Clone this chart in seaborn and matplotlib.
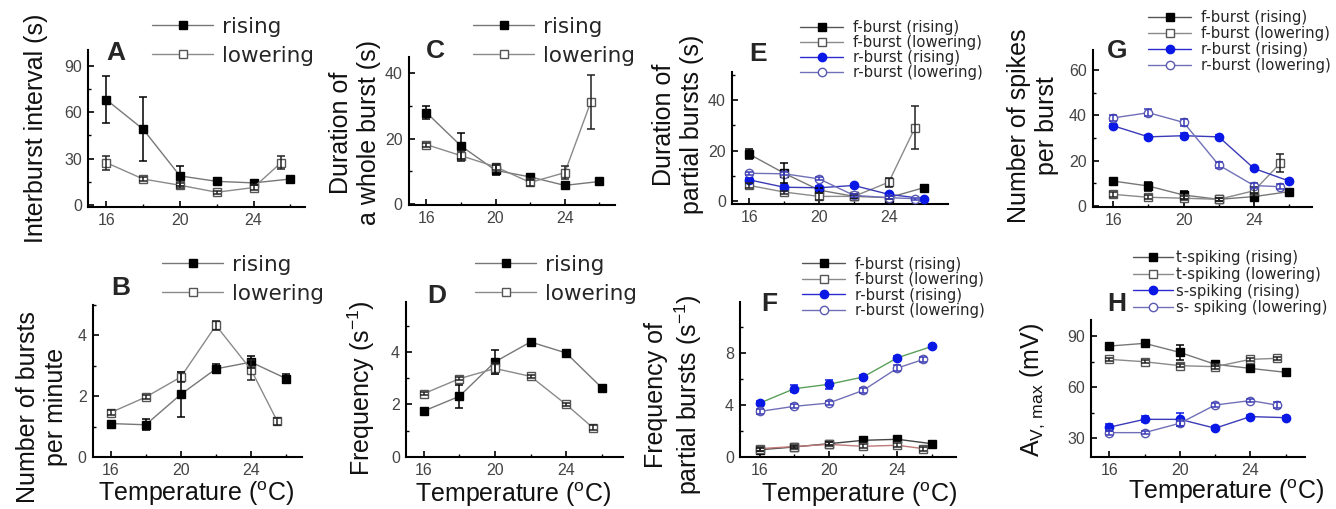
import numpy as np
import pandas as pd
import matplotlib
matplotlib.use("Agg")
import matplotlib.pyplot as plt
import seaborn as sns
from matplotlib.lines import Line2D
from matplotlib.ticker import MultipleLocator

sns.set_style("ticks")
plt.rcParams['font.family'] = ['Liberation Sans', 'DejaVu Sans']
plt.rcParams['mathtext.fontset'] = 'custom'
plt.rcParams['mathtext.rm'] = 'Liberation Sans'
plt.rcParams['mathtext.it'] = 'Liberation Sans:italic'
plt.rcParams['mathtext.bf'] = 'Liberation Sans:bold'

# ---------------- data ----------------
T_RISE = [16, 18, 20, 22, 24, 26]
T_LOWER = [16, 18, 20, 22, 24, 25.5]

# A: interburst interval (s)
A_rise = [68, 49, 19, 15.5, 14.5, 17]
A_rise_err = [15, 20.5, 6.5, 2, 1.5, 1.2]
A_lower = [27.5, 17, 13, 8.5, 11.5, 27.5]
A_lower_err = [4.5, 1, 1.5, 1, 1.5, 4]

# C: duration of a whole burst (s)
C_rise = [28, 17.8, 10.3, 8.3, 5.7, 6.9]
C_rise_err = [2, 4, 1.5, 0.8, 0.5, 0.6]
C_lower = [18.2, 14.8, 11.4, 6.6, 9.6, 31.2]
C_lower_err = [0.6, 1.5, 1, 1, 1.9, 8.2]

# E: duration of partial bursts (s)
E_f_rise = [18.6, 11.1, 4.5, 2.0, 1.5, 5.4]
E_f_rise_err = [1.9, 4, 1, 0.6, 0.6, 0.6]
E_f_lower = [6.3, 3.7, 2.0, 2.0, 7.6, 29.0]
E_f_lower_err = [0.8, 0.6, 1.5, 0.8, 1.8, 8.5]
E_r_rise = [8.5, 5.6, 5.4, 6.3, 2.8, 1.1]
E_r_rise_err = [0.6, 0.8, 0.8, 0.6, 0.6, 0.4]
E_r_lower = [11.1, 10.9, 8.9, 2.4, 1.5, 1.1]
E_r_lower_err = [0.6, 0.6, 0.6, 0.6, 0.5, 0.4]

# G: number of spikes per burst
G_f_rise = [10.9, 8.7, 4.7, 2.8, 4.0, 6.2]
G_f_rise_err = [1, 2, 1.6, 0.8, 1.5, 0.8]
G_f_lower = [5.0, 3.7, 3.3, 2.8, 6.6, 18.8]
G_f_lower_err = [1, 0.8, 0.8, 0.6, 1.5, 4]
G_r_rise = [35.4, 30.5, 31, 30.5, 16.5, 10.9]
G_r_rise_err = [1, 0.8, 1, 0.8, 0.8, 0.8]
G_r_lower = [38.9, 41.2, 36.9, 18.0, 8.9, 8.4]
G_r_lower_err = [1.5, 1.5, 1.5, 1.2, 1.2, 1]

# B: number of bursts per minute
B_rise = [1.1, 1.06, 2.06, 2.9, 3.12, 2.58]
B_rise_err = [0.07, 0.18, 0.73, 0.15, 0.2, 0.15]
B_lower = [1.46, 1.97, 2.63, 4.33, 2.87, 1.17]
B_lower_err = [0.07, 0.06, 0.15, 0.15, 0.33, 0.12]

# D: frequency (s^-1)
D_rise = [1.75, 2.31, 3.62, 4.38, 3.96, 2.64]
D_rise_err = [0.13, 0.43, 0.47, 0.06, 0.07, 0.07]
D_lower = [2.41, 2.98, 3.37, 3.07, 2.0, 1.12]
D_lower_err = [0.05, 0.06, 0.2, 0.07, 0.07, 0.1]

# F: frequency of partial bursts (s^-1)
F_f_rise = [0.56, 0.77, 1.02, 1.28, 1.36, 1.02]
F_f_rise_err = [0.1, 0.1, 0.1, 0.1, 0.1, 0.1]
F_f_lower = [0.64, 0.8, 0.97, 0.82, 0.9, 0.64]
F_f_lower_err = [0.15, 0.15, 0.15, 0.15, 0.15, 0.15]
F_r_rise = [4.14, 5.24, 5.58, 6.14, 7.62, 8.49]
F_r_rise_err = [0.15, 0.25, 0.35, 0.15, 0.15, 0.12]
F_r_lower = [3.5, 3.89, 4.14, 5.11, 6.83, 7.49]
F_r_lower_err = [0.2, 0.15, 0.15, 0.2, 0.2, 0.2]

# H: A_V,max (mV)
H_t_rise = [84.1, 85.7, 80.4, 73.4, 71.0, 68.7]
H_t_rise_err = [1, 1, 4.4, 1, 0.8, 0.8]
H_t_lower = [76.3, 74.9, 72.6, 72.0, 76.3, 76.9]
H_t_lower_err = [0.8, 0.8, 0.8, 1.5, 0.8, 1]
H_s_rise = [36.5, 41.1, 41.1, 35.9, 42.7, 42.1]
H_s_rise_err = [2, 1.8, 4, 1, 1, 0.8]
H_s_lower = [33.3, 33.3, 38.8, 49.5, 52.1, 49.5]
H_s_lower_err = [1.2, 0.8, 1.5, 1, 0.8, 1.5]

LEG2 = ["rising", "lowering"]
LEG_BURST = ["f-burst (rising)", "f-burst (lowering)", "r-burst (rising)", "r-burst (lowering)"]
LEG_SPIKE = ["t-spiking (rising)", "t-spiking (lowering)", "s-spiking (rising)", "s- spiking (lowering)"]

# ---------------- styles ----------------
BLUE = "#0a18e6"
STY = {
    "f_rise": dict(marker="s", mfc="black", mec="black", line="#777777", ecol="black", ms=5.3),
    "f_lower": dict(marker="s", mfc="white", mec="#555555", line="#8a8a8a", ecol="#222222", ms=5.3),
    "r_rise": dict(marker="o", mfc=BLUE, mec=BLUE, line="#3a3ab8", ecol=BLUE, ms=6),
    "r_lower": dict(marker="o", mfc="white", mec="#5a5ab0", line="#7070b8", ecol="#3a3ab8", ms=6),
}
LEG_LINES = ["#555555", "#8a8a8a", "#2a2ad0", "#7070b8"]

W, H = 1336, 509
fig = plt.figure(figsize=(W / 100, H / 100), dpi=100)


def add_ax(l, r, t, b):
    return fig.add_axes([l / W, 1 - b / H, (r - l) / W, (b - t) / H])


def draw(ax, x, y, err, kind, line=None):
    s = STY[kind]
    df = pd.DataFrame({"T": x, "v": y})
    sns.lineplot(data=df, x="T", y="v", ax=ax, color=line or s["line"], linewidth=1.0,
                 marker=s["marker"], markersize=s["ms"], markerfacecolor=s["mfc"],
                 markeredgecolor=s["mec"], markeredgewidth=1.0, estimator=None,
                 sort=False, zorder=3)
    ax.errorbar(x, y, yerr=err, fmt="none", ecolor=s["ecol"], elinewidth=1.1,
                capsize=3, capthick=1.1, zorder=4)


def style_ax(ax, xlim, ylim, ymaj, ymin, ylabel, lab_x, lab_y, xlabel=None, xlab_x=0.5):
    ax.set_xlim(*xlim)
    ax.set_ylim(*ylim)
    ax.xaxis.set_major_locator(MultipleLocator(4))
    ax.xaxis.set_minor_locator(MultipleLocator(2))
    ax.yaxis.set_major_locator(MultipleLocator(ymaj))
    ax.yaxis.set_minor_locator(MultipleLocator(ymin))
    for sp in ["top", "right"]:
        ax.spines[sp].set_visible(False)
    for sp in ["left", "bottom"]:
        ax.spines[sp].set_linewidth(1.5)
        ax.spines[sp].set_color("black")
    ax.tick_params(which="major", direction="in", length=4, width=1.2, labelsize=11.5,
                   labelcolor="#444444", color="black", pad=4.5)
    ax.tick_params(which="minor", direction="in", length=2.5, width=1.0, color="black")
    ax.set_ylabel(ylabel, fontsize=18, color="#111111", linespacing=1.2)
    ax.yaxis.set_label_coords(lab_x, lab_y)
    if xlabel:
        ax.set_xlabel(xlabel, fontsize=18, color="#111111")
        ax.xaxis.set_label_coords(xlab_x, -0.15)
    else:
        ax.set_xlabel("")


def handle(kind, line=None):
    s = STY[kind]
    return Line2D([], [], color=line or s["line"], lw=1.0, marker=s["marker"], ms=s["ms"],
                  mfc=s["mfc"], mec=s["mec"], mew=1.0)


def legend(ax, kinds, labels, x_px, y_px, fs, hl, htp, ls, lines=None):
    lines = lines or [None] * len(kinds)
    hs = [handle(k, l) for k, l in zip(kinds, lines)]
    ax.legend(hs, labels, loc="upper left", bbox_to_anchor=(x_px / W, 1 - y_px / H),
              bbox_transform=fig.transFigure, frameon=False,
              prop={"family": "DejaVu Sans", "size": fs}, handlelength=hl,
              handletextpad=htp, labelspacing=ls, borderpad=0, borderaxespad=0, numpoints=1)


def letter(txt, x, y):
    fig.text(x / W, 1 - y / H, txt, fontsize=19, fontweight="bold", ha="left", va="top")


TEMP = "Temperature ($^{\\mathrm{o}}$C)"
KINDS4 = ["f_rise", "f_lower", "r_rise", "r_lower"]
BIG = dict(fs=15.5, hl=2.84, htp=0.42, ls=0.4)
SMALL = dict(fs=10.7, hl=2.9, htp=0.67)

# ---- A ----
ax = add_ax(88, 305, 50, 207)
draw(ax, T_RISE, A_rise, A_rise_err, "f_rise")
draw(ax, T_LOWER, A_lower, A_lower_err, "f_lower")
style_ax(ax, (15, 26.8), (-1, 100), 30, 15, "Interburst interval (s)", -0.184, 0.5)
legend(ax, ["f_rise", "f_lower"], LEG2, 152, 17, **BIG)
letter("A", 106, 41)

# ---- C ----
ax = add_ax(409, 615, 57, 205)
draw(ax, T_RISE, C_rise, C_rise_err, "f_rise")
draw(ax, T_LOWER, C_lower, C_lower_err, "f_lower")
style_ax(ax, (15, 26.9), (-0.3, 45), 20, 10, "Duration of\na whole burst (s)", -0.136, 0.49)
legend(ax, ["f_rise", "f_lower"], LEG2, 473, 17, **BIG)
letter("C", 426, 39)

# ---- E ----
ax = add_ax(732, 948, 72, 204)
draw(ax, T_RISE, E_f_rise, E_f_rise_err, "f_rise")
draw(ax, T_LOWER, E_f_lower, E_f_lower_err, "f_lower")
draw(ax, T_RISE, E_r_rise, E_r_rise_err, "r_rise")
draw(ax, T_LOWER, E_r_lower, E_r_lower_err, "r_lower")
style_ax(ax, (15, 27.4), (-1, 51), 20, 10, "Duration of\npartial bursts (s)", -0.13, 0.6)
legend(ax, KINDS4, LEG_BURST, 800, 20, ls=0.0, lines=LEG_LINES, **SMALL)
letter("E", 749, 42)

# ---- G ----
ax = add_ax(1093, 1312, 50, 207)
draw(ax, T_RISE, G_f_rise, G_f_rise_err, "f_rise")
draw(ax, T_LOWER, G_f_lower, G_f_lower_err, "f_lower")
draw(ax, T_RISE, G_r_rise, G_r_rise_err, "r_rise")
draw(ax, T_LOWER, G_r_lower, G_r_lower_err, "r_lower")
style_ax(ax, (14.85, 27.3), (-0.6, 69), 20, 10, "Number of spikes\nper burst", -0.155, 0.52)
legend(ax, KINDS4, LEG_BURST, 1148, 10, ls=0.07, lines=LEG_LINES, **SMALL)
letter("G", 1107, 39)

# ---- B ----
ax = add_ax(93, 302, 305, 457)
draw(ax, T_RISE, B_rise, B_rise_err, "f_rise")
draw(ax, T_LOWER, B_lower, B_lower_err, "f_lower")
style_ax(ax, (15, 26.9), (0, 5), 2, 1, "Number of bursts\nper minute", -0.12, 0.33, TEMP, 0.495)
legend(ax, ["f_rise", "f_lower"], LEG2, 162, 255, **BIG)
letter("B", 111, 276)

# ---- D ----
ax = add_ax(406, 623, 302, 457)
draw(ax, T_RISE, D_rise, D_rise_err, "f_rise")
draw(ax, T_LOWER, D_lower, D_lower_err, "f_lower")
style_ax(ax, (15, 27.2), (0, 5.9), 2, 1, "Frequency (s$^{-1}$)", -0.134, 0.445, TEMP, 0.495)
legend(ax, ["f_rise", "f_lower"], LEG2, 475, 255, **BIG)
letter("D", 427, 284)

# ---- F ----
ax = add_ax(740, 956, 302, 457)
draw(ax, T_RISE, F_f_rise, F_f_rise_err, "f_rise", line="#444444")
draw(ax, T_LOWER, F_f_lower, F_f_lower_err, "f_lower", line="#c07878")
draw(ax, T_RISE, F_r_rise, F_r_rise_err, "r_rise", line="#5aa05a")
draw(ax, T_LOWER, F_r_lower, F_r_lower_err, "r_lower")
style_ax(ax, (14.85, 27.4), (0, 11.9), 4, 2, "Frequency of\npartial bursts (s$^{-1}$)", -0.167, 0.4,
         TEMP, 0.549)
legend(ax, KINDS4, LEG_BURST, 802, 256.5, ls=0.04, lines=LEG_LINES, **SMALL)
letter("F", 761, 292)

# ---- H ----
ax = add_ax(1091, 1305, 320, 457)
draw(ax, T_RISE, H_t_rise, H_t_rise_err, "f_rise")
draw(ax, T_LOWER, H_t_lower, H_t_lower_err, "f_lower")
draw(ax, T_RISE, H_s_rise, H_s_rise_err, "r_rise")
draw(ax, T_LOWER, H_s_lower, H_s_lower_err, "r_lower")
style_ax(ax, (14.96, 27.1), (19, 99.4), 30, 15, "A$_{\\mathrm{V,\\,max}}$ (mV)", -0.206, 0.49,
         TEMP, 0.63)
legend(ax, KINDS4, LEG_SPIKE, 1133, 250, fs=10.7, hl=2.7, htp=0.2, ls=0.12, lines=LEG_LINES)
letter("H", 1107, 292)

fig.savefig("out.png", dpi=100)
